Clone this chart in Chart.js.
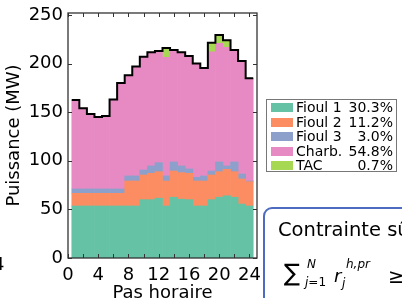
<!DOCTYPE html>
<html>
<head>
<meta charset="utf-8">
<script src="https://cdn.jsdelivr.net/npm/chart.js@4/dist/chart.umd.min.js"></script>
<style>
  body { margin: 0; width: 402px; height: 298px; overflow: hidden; background: #fff; position: relative; font-family: "DejaVu Sans", sans-serif; color: #000; }
  #chart { position: absolute; left: 0; top: 0; }
  #legend { position: absolute; left: 266px; top: 99px; width: 131px; height: 73px; border: 1.5px solid #777; box-sizing: border-box; font-size: 14px; }
  #legend .row { position: relative; height: 14.6px; line-height: 14.6px; }
  #legend .sw { position: absolute; left: 4px; top: 3px; width: 22px; height: 9px; }
  #legend .name { position: absolute; left: 29px; top: 0; }
  #legend .pct { position: absolute; right: 3px; top: 0; }
  #box { position: absolute; left: 263px; top: 207px; width: 200px; height: 150px; border: 2px solid #4d6bbf; border-radius: 9px; box-sizing: border-box; }
  .t { position: absolute; white-space: nowrap; }
</style>
</head>
<body>
<canvas id="chart" width="402" height="298"></canvas>
<div id="legend"></div>
<div id="box"></div>
<div class="t" style="left:-7px; top:253px; font-size:18px;">4</div>
<div class="t" style="left:278px; top:218px; font-size:19.5px;">Contrainte sûreté</div>
<div class="t" style="left:284px; top:259px; font-size:24px;">∑</div>
<div class="t" style="left:307px; top:257px; font-size:12px; font-style:italic;">N</div>
<div class="t" style="left:305px; top:275px; font-size:12px;"><i>j</i>=1</div>
<div class="t" style="left:334px; top:265px; font-size:18px; font-style:italic;">r</div>
<div class="t" style="left:342px; top:276px; font-size:12px; font-style:italic;">j</div>
<div class="t" style="left:346px; top:257px; font-size:12px; font-style:italic;">h,pr</div>
<div class="t" style="left:388px; top:264px; font-size:20px;">≥</div>
<script>
// hours 1..24 (one bar per hour)
const hours = [1, 2, 3, 4, 5, 6, 7, 8, 9, 10, 11, 12, 13, 14, 15, 16, 17, 18, 19, 20, 21, 22, 23, 24];

// MW per unit type
const fioul1 = [53.5, 53.5, 53.5, 53.5, 53.5, 53.5, 53.5, 53.5, 53.5, 60, 60, 61.5, 53.5, 62.5, 60.5, 60, 53.5, 53.5, 60, 62.5, 64, 62.5, 55.5, 53.5];
const fioul2 = [13, 13, 13, 13, 13, 13, 13, 25.7, 25.7, 25.4, 27.1, 27.3, 25.7, 27, 27.3, 27.1, 25.7, 25.7, 25.4, 26.3, 27.2, 26.3, 25.8, 25];
const fioul3 = [4.5, 4.5, 4.5, 4.5, 4.5, 4.5, 4.5, 5.2, 5.2, 5.1, 7.6, 9.3, 5.2, 9.3, 6.9, 4.5, 3.8, 5.2, 4.1, 10, 3.5, 10, 5.1, 0.7];
const charb = [91.5, 83, 77, 74, 75, 92, 109, 103.6, 112.6, 116.5, 116.9, 114.9, 122, 115.2, 116.9, 116.2, 117, 111.1, 122.5, 122, 122, 115.2, 116.3, 105.7];
const tac = [0, 0, 0, 0, 0, 0, 0, 0, 0, 0, 0, 0, 9.6, 0, 0, 0, 0, 0, 9.5, 8.6, 7.3, 0, 0, 0];

const names = ["Fioul 1", "Fioul 2", "Fioul 3", "Charb.", "TAC"];
const shares = ["30.3%", "11.2%", "3.0%", "54.8%", "0.7%"];
const colors = ["#66c2a5", "#fc8d62", "#8da0cb", "#e78ac3", "#a6d854"];

const xTicks = [0, 4, 8, 12, 16, 20, 24];
const xMinor = [0, 2, 4, 6, 8, 10, 12, 14, 16, 18, 20, 22, 24];
const yTicks = [0, 50, 100, 150, 200, 250];

const series = [fioul1, fioul2, fioul3, charb, tac];

// demand line = sum of the stack, held over each hour
const total = hours.map((h, i) => series.reduce((s, a) => s + a[i], 0));
const demand = hours.map((h, i) => ({ x: h - 0.5, y: total[i] }));
demand.push({ x: hours[hours.length - 1] + 0.5, y: total[total.length - 1] });

// legend
const legend = document.getElementById("legend");
names.forEach((n, i) => {
  legend.innerHTML += `
    <div class="row">
      <div class="sw" style="background:${colors[i]}"></div>
      <span class="name">${n}</span>
      <span class="pct">${shares[i]}</span>
    </div>`;
});

// box + inward ticks like the original
const frame = {
  id: "frame",
  afterDatasetsDraw(chart) {
    const { ctx, chartArea: a, scales: { x, y } } = chart;
    ctx.save();
    ctx.strokeStyle = "#333";
    ctx.lineWidth = 1;
    ctx.beginPath();
    xMinor.forEach(v => {
      const px = Math.round(x.getPixelForValue(v)) + 0.5;
      ctx.moveTo(px, a.top); ctx.lineTo(px, a.top + 4);
      ctx.moveTo(px, a.bottom); ctx.lineTo(px, a.bottom - 4);
    });
    yTicks.forEach(v => {
      const py = Math.round(y.getPixelForValue(v)) + 0.5;
      ctx.moveTo(a.left, py); ctx.lineTo(a.left + 4, py);
      ctx.moveTo(a.right, py); ctx.lineTo(a.right - 4, py);
    });
    ctx.stroke();
    ctx.lineWidth = 1.3;
    ctx.strokeRect(a.left, a.top, a.right - a.left, a.bottom - a.top);
    ctx.restore();
  }
};

const font = { family: "DejaVu Sans", size: 18 };

const datasets = [{
  type: "line",
  label: "Demande",
  data: demand,
  stack: "demand",
  borderColor: "#000",
  borderWidth: 2,
  stepped: "before",
  pointRadius: 0,
  fill: false,
  borderJoinStyle: "miter",
  order: 0
}];
series.forEach((arr, k) => {
  datasets.push({
    type: "bar",
    label: names[k],
    data: hours.map((h, i) => ({ x: h, y: arr[i] })),
    backgroundColor: colors[k],
    borderWidth: 0,
    barPercentage: 1,
    categoryPercentage: 1,
    order: 1
  });
});

new Chart(document.getElementById("chart"), {
  data: { datasets },
  options: {
    responsive: false,
    animation: false,
    events: [],
    layout: { padding: { left: 0, top: 13, right: 145, bottom: 0 } },
    plugins: { legend: { display: false }, tooltip: { enabled: false } },
    scales: {
      x: {
        type: "linear",
        stacked: true,
        offset: false,
        min: 0,
        max: 25,
        grid: { display: false, drawTicks: false },
        border: { display: false },
        afterBuildTicks: s => { s.ticks = xTicks.map(v => ({ value: v })); },
        afterFit: s => { s.height = 40; s.paddingLeft = 0; s.paddingRight = 0; },
        ticks: { font, color: "#000", padding: 7, maxRotation: 0 },
        title: { display: true, text: "Pas horaire", font, color: "#000", padding: { top: 0, bottom: -6 } }
      },
      y: {
        stacked: true,
        min: 0,
        max: 252,
        grid: { display: false, drawTicks: false },
        border: { display: false },
        afterBuildTicks: s => { s.ticks = yTicks.map(v => ({ value: v })); },
        afterFit: s => { s.width = 68; s.paddingTop = 0; s.paddingBottom = 0; },
        ticks: { font, color: "#000", padding: 5 },
        title: { display: true, text: "Puissance (MW)", font, color: "#000", padding: { top: 4, bottom: 0 } }
      }
    }
  },
  plugins: [frame]
});
</script>
</body>
</html>
